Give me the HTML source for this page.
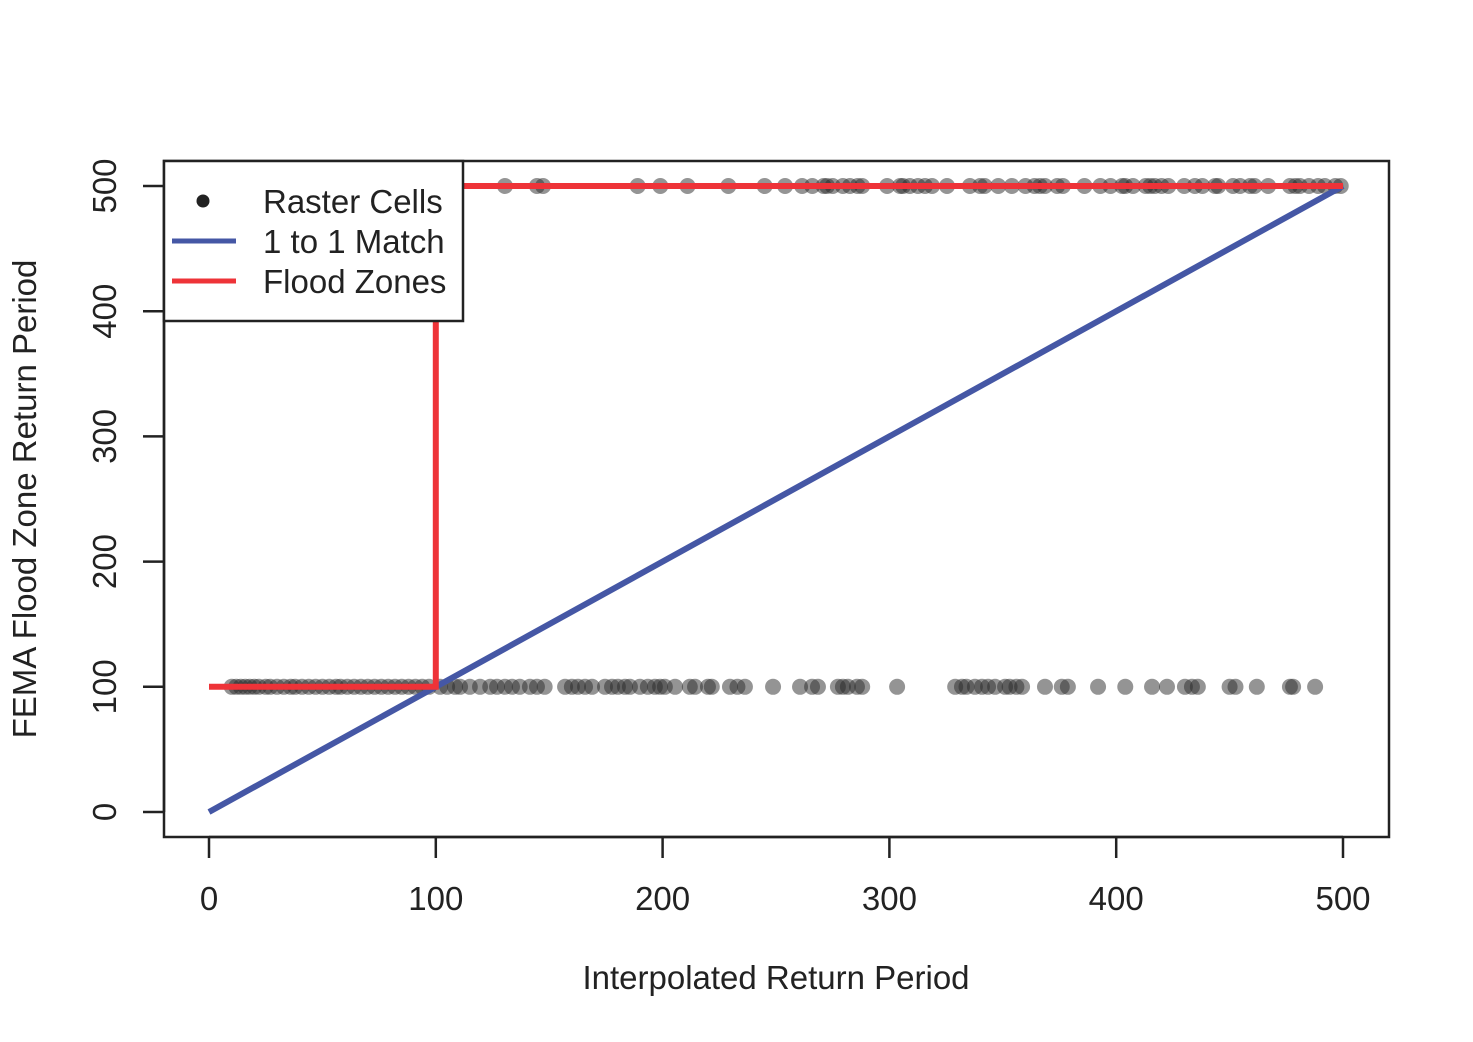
<!DOCTYPE html>
<html><head><meta charset="utf-8"><style>
html,body{margin:0;padding:0;background:#fff;}
svg{display:block;font-family:"Liberation Sans",Arial,sans-serif;}
</style></head><body>
<svg id="chart" width="1473" height="1042" viewBox="0 0 1473 1042" xmlns="http://www.w3.org/2000/svg">
<rect x="0" y="0" width="1473" height="1042" fill="#fff"/>
<g id="marks"></g>
<g id="axes"></g>
<rect x="164" y="161" width="1225" height="676" fill="none" stroke="#222" stroke-width="2.5"/>
<text x="776" y="989" font-size="33" text-anchor="middle" fill="#222">Interpolated Return Period</text>
<text transform="translate(36,499) rotate(-90)" font-size="33" text-anchor="middle" fill="#222">FEMA Flood Zone Return Period</text>
<g>
<rect x="164" y="161" width="299" height="160" fill="#fff" stroke="#222" stroke-width="2.5"/>
<circle cx="203" cy="201" r="6.5" fill="#222"/>
<text x="263" y="213" font-size="33" fill="#222">Raster Cells</text>
<line x1="172" y1="241" x2="236" y2="241" stroke="#4557a5" stroke-width="5"/>
<text x="263" y="253" font-size="33" fill="#222">1 to 1 Match</text>
<line x1="172" y1="281" x2="236" y2="281" stroke="#ee3338" stroke-width="5"/>
<text x="263" y="293" font-size="33" fill="#222">Flood Zones</text>
</g>
</svg>
<script>
const xTicks = [0, 100, 200, 300, 400, 500];
const yTicks = [0, 100, 200, 300, 400, 500];
const topRowX = [130.5,144.6,147.3,189,199,211,229,245,254,261.5,266,271,272.5,275,279.5,282.6,286,288,299,304.7,306,309,312.6,315.7,318.8,325.4,335.5,340,342,348,354,360,364,366.4,368.6,374,376.5,386,393,397.5,402.6,404,407.4,413,415,417,420,423,430,434.7,438,443.6,445,451.5,454.6,459,461,467,476.6,479,481,485,489,492,496.6,499];
const bottomRowX = [10,12,14,16,18,20,22,25,27,30,33,36,38,41,44,47,50,53,56,58,61,64,67,70,73,76,79,82,85,88,91,94,97,101.9,105,108.5,110.7,115,119.5,124,127,130.5,133.6,137,141.5,144.6,148,157,160,162.7,165.8,168.9,174.6,177.7,180.3,183.4,185.6,190,193.5,196.6,198.9,201,205.5,212,214.3,220,221.7,229.7,233,236.3,248.7,260.6,265.9,268.5,277.3,279.5,281.7,285.7,288,303.4,329,332,334,337.7,340.8,343.5,346.6,351,353,356,358.5,368.6,376,378.7,392,404,415.8,422.4,430.3,433.4,436,450,452.6,462,476.6,478,487.7];
const topRowY = 500;
const bottomRowY = 100;
const oneToOne = [[0,0],[500,500]];
const floodZones = [[0,100],[100,100],[100,500],[500,500]];

const NS = "http://www.w3.org/2000/svg";
function sx(v){ return 209 + v * (1343 - 209) / 500; }
function sy(v){ return 812 - v * (812 - 186) / 500; }
const marks = document.getElementById('marks');
const axes = document.getElementById('axes');
function mk(tag, attrs, parent){ const e = document.createElementNS(NS, tag); for (const k in attrs) e.setAttribute(k, attrs[k]); parent.appendChild(e); return e; }

function addPoints(xs, yv, nm){
  xs.forEach(function(x){
    const c = mk('circle', {cx: sx(x), cy: sy(yv), r: 8, fill: '#2a2a2a', 'fill-opacity': 0.5}, marks);
    
    
  });
}
addPoints(topRowX, topRowY, 'raster-cell-point-500');
addPoints(bottomRowX, bottomRowY, 'raster-cell-point-100');

const blue = mk('polyline', {points: oneToOne.map(p => sx(p[0]) + ',' + sy(p[1])).join(' '), fill: 'none', stroke: '#4557a5', 'stroke-width': 6}, marks);


const red = mk('polyline', {points: floodZones.map(p => sx(p[0]) + ',' + sy(p[1])).join(' '), fill: 'none', stroke: '#ee3338', 'stroke-width': 6}, marks);



const xl = mk('line', {x1: sx(xTicks[0]), x2: sx(xTicks[xTicks.length-1]), y1: 837, y2: 837, stroke: '#222', 'stroke-width': 2.5}, axes);


xTicks.forEach(function(t){
  const l = mk('line', {x1: sx(t), x2: sx(t), y1: 837, y2: 858, stroke: '#222', 'stroke-width': 2.5}, axes);
  
  
  const tx = mk('text', {x: sx(t), y: 910, 'font-size': 33, 'text-anchor': 'middle', fill: '#222'}, axes);
  tx.textContent = t;
  
  
});
const yl = mk('line', {x1: 164, x2: 164, y1: sy(yTicks[0]), y2: sy(yTicks[yTicks.length-1]), stroke: '#222', 'stroke-width': 2.5}, axes);


yTicks.forEach(function(t){
  const l = mk('line', {x1: 143, x2: 164, y1: sy(t), y2: sy(t), stroke: '#222', 'stroke-width': 2.5}, axes);
  
  
  const tx = mk('text', {transform: 'translate(116,' + sy(t) + ') rotate(-90)', 'font-size': 33, 'text-anchor': 'middle', fill: '#222'}, axes);
  tx.textContent = t;
  
  
});
</script>
</body></html>
